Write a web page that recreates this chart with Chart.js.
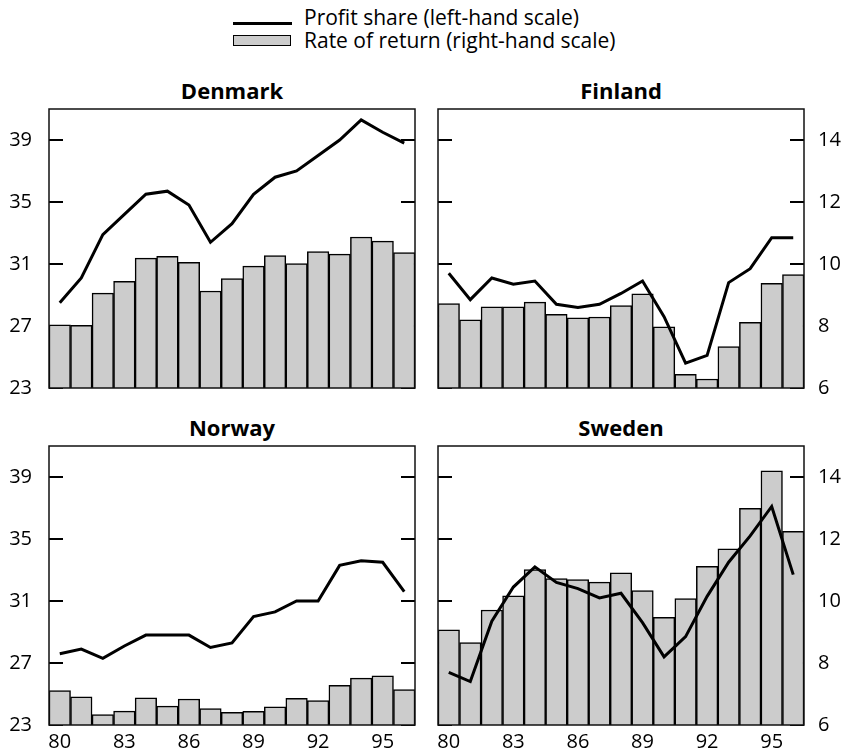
<!DOCTYPE html>
<html>
<head>
<meta charset="utf-8">
<script src="https://cdn.jsdelivr.net/npm/chart.js@4.4.1/dist/chart.umd.min.js"></script>
<style>
  body { margin: 0; background: #fff; font-family: "Open Sans", sans-serif; color: #000; }
  #page { position: relative; width: 844px; height: 751px; overflow: hidden; }
  canvas { position: absolute; }
  .title { position: absolute; width: 366px; text-align: center; font-weight: bold; font-size: 22px; line-height: 26px; }
  .legend-text { position: absolute; left: 304px; font-size: 21px; line-height: 24px; white-space: nowrap; }
  .legend-line { position: absolute; left: 233px; top: 22px; width: 59px; height: 3px; background: #000; }
  .legend-box { position: absolute; left: 233px; top: 35px; width: 56px; height: 9px; background: #cccccc; border: 1.5px solid #000; }
</style>
</head>
<body>
<div id="page">
  <div class="legend-line"></div>
  <div class="legend-text" style="top:5px">Profit share (left-hand scale)</div>
  <div class="legend-box"></div>
  <div class="legend-text" style="top:28px">Rate of return (right-hand scale)</div>

  <div class="title" style="left:49px; top:77px">Denmark</div>
  <div class="title" style="left:438px; top:77px">Finland</div>
  <div class="title" style="left:49px; top:414px">Norway</div>
  <div class="title" style="left:438px; top:414px">Sweden</div>

  <canvas id="denmark" width="422" height="300" style="left:0; top:100px"></canvas>
  <canvas id="finland" width="422" height="300" style="left:422px; top:100px"></canvas>
  <canvas id="norway" width="422" height="351" style="left:0; top:400px"></canvas>
  <canvas id="sweden" width="422" height="351" style="left:422px; top:400px"></canvas>
</div>
<script>
// 数据
const years = ['80', '81', '82', '83', '84', '85', '86', '87', '88', '89', '90', '91', '92', '93', '94', '95', '96'];
const yearLabels = ['80', '83', '86', '89', '92', '95'];
const leftTicks = [23, 27, 31, 35, 39];
const rightTicks = [6, 8, 10, 12, 14];

// Profit share (left-hand scale)
const denmarkProfit = [28.5, 30.1, 32.9, 34.2, 35.5, 35.7, 34.8, 32.4, 33.6, 35.5, 36.6, 37.0, 38.0, 39.0, 40.3, 39.5, 38.8];
const finlandProfit = [30.4, 28.7, 30.1, 29.7, 29.9, 28.4, 28.2, 28.4, 29.1, 29.9, 27.6, 24.6, 25.1, 29.8, 30.7, 32.7, 32.7];
const norwayProfit = [27.6, 27.9, 27.3, 28.1, 28.8, 28.8, 28.8, 28.0, 28.3, 30.0, 30.3, 31.0, 31.0, 33.3, 33.6, 33.5, 31.6];
const swedenProfit = [26.4, 25.8, 29.7, 31.9, 33.2, 32.2, 31.8, 31.2, 31.5, 29.6, 27.4, 28.7, 31.3, 33.5, 35.2, 37.1, 32.7];

// Rate of return (right-hand scale)
const denmarkReturn = [8.04, 8.02, 9.06, 9.44, 10.19, 10.25, 10.05, 9.13, 9.53, 9.93, 10.27, 10.01, 10.4, 10.32, 10.87, 10.74, 10.37];
const finlandReturn = [8.72, 8.2, 8.62, 8.62, 8.77, 8.38, 8.26, 8.29, 8.66, 9.04, 7.97, 6.44, 6.29, 7.34, 8.12, 9.38, 9.66];
const norwayReturn = [7.11, 6.91, 6.34, 6.45, 6.88, 6.61, 6.84, 6.53, 6.41, 6.44, 6.59, 6.86, 6.79, 7.28, 7.51, 7.59, 7.14];
const swedenReturn = [9.07, 8.66, 9.71, 10.17, 11.01, 10.72, 10.69, 10.61, 10.91, 10.34, 9.47, 10.08, 11.12, 11.68, 12.99, 14.2, 12.25];

const FONT = { family: '"Open Sans", sans-serif', size: 20 };

// 内侧刻度 + 边框
const framePlugin = {
  id: 'frame',
  beforeDatasetsDraw(chart, args, opts) {
    const { ctx, chartArea: a } = chart;
    const scale = chart.scales[opts.scaleId];
    ctx.save();
    ctx.strokeStyle = '#000';
    ctx.lineWidth = 2;
    scale.ticks.forEach(t => {
      const y = scale.getPixelForValue(t.value);
      ctx.beginPath();
      ctx.moveTo(a.left, y);
      ctx.lineTo(a.left + 14, y);
      ctx.moveTo(a.right - 14, y);
      ctx.lineTo(a.right, y);
      ctx.stroke();
    });
    ctx.restore();
  },
  afterDatasetsDraw(chart) {
    const { ctx, chartArea: a } = chart;
    ctx.save();
    ctx.strokeStyle = '#111';
    ctx.lineWidth = 1.5;
    ctx.strokeRect(a.left, a.top, a.right - a.left, a.bottom - a.top);
    ctx.restore();
  }
};

function makePanel(id, profit, ret, side, bottomRow) {
  const leftW = side === 'left' ? 49 : 16;
  const rightW = side === 'left' ? 7 : 40;
  // 固定轴尺寸，去掉标签带来的额外留白
  const fitY = w => s => { s.width = w; s.paddingTop = 0; s.paddingBottom = 0; };
  return new Chart(document.getElementById(id), {
    data: {
      labels: years,
      datasets: [{
        type: 'line',
        label: 'Profit share',
        data: profit,
        yAxisID: 'y',
        borderColor: '#000',
        borderWidth: 3,
        pointRadius: 0,
        tension: 0,
        order: 0
      }, {
        type: 'bar',
        label: 'Rate of return',
        data: ret,
        yAxisID: 'y1',
        backgroundColor: '#cccccc',
        borderColor: '#000',
        borderWidth: 1.5,
        barPercentage: 1,
        categoryPercentage: 1,
        order: 1
      }]
    },
    options: {
      responsive: false,
      animation: false,
      devicePixelRatio: 1,
      layout: { padding: { top: bottomRow ? 46 : 9, left: 0, right: 0, bottom: 0 } },
      plugins: {
        legend: { display: false },
        tooltip: { enabled: false },
        frame: { scaleId: side === 'left' ? 'y' : 'y1' }
      },
      scales: {
        x: {
          offset: true,
          grid: { display: false, drawTicks: false },
          border: { display: false },
          ticks: {
            display: bottomRow,
            autoSkip: false,
            maxRotation: 0,
            padding: 5,
            color: '#000',
            font: FONT,
            callback: (v, i) => yearLabels.includes(years[i]) ? years[i] : ''
          },
          afterFit: s => { s.height = bottomRow ? 26 : 12; s.paddingLeft = 0; s.paddingRight = 0; }
        },
        y: {
          position: 'left',
          min: 23,
          max: 41,
          afterBuildTicks: s => { s.ticks = leftTicks.map(v => ({ value: v })); },
          grid: { display: false, drawTicks: false },
          border: { display: false },
          ticks: { display: side === 'left', padding: 17, color: '#000', font: FONT },
          afterFit: fitY(leftW)
        },
        y1: {
          position: 'right',
          min: 6,
          max: 15,
          afterBuildTicks: s => { s.ticks = rightTicks.map(v => ({ value: v })); },
          grid: { display: false, drawTicks: false },
          border: { display: false },
          ticks: { display: side === 'right', padding: 14, color: '#000', font: FONT },
          afterFit: fitY(rightW)
        }
      }
    },
    plugins: [framePlugin]
  });
}

makePanel('denmark', denmarkProfit, denmarkReturn, 'left', false);
makePanel('finland', finlandProfit, finlandReturn, 'right', false);
makePanel('norway', norwayProfit, norwayReturn, 'left', true);
makePanel('sweden', swedenProfit, swedenReturn, 'right', true);
</script>
</body>
</html>
